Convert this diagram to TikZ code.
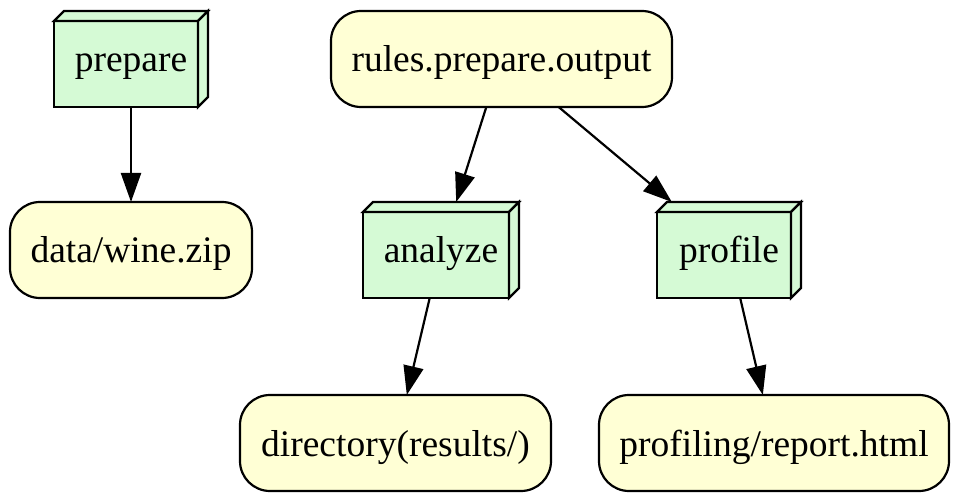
\documentclass[tikz,border=0pt]{standalone}
\usepackage{fontspec}
\setmainfont{Liberation Serif}
\usetikzlibrary{arrows.meta,calc,backgrounds}
\definecolor{fileyellow}{HTML}{FFFFD5}
\definecolor{rulegreen}{HTML}{D5FAD5}
\begin{document}
\begin{tikzpicture}[x=1pt,y=-1pt,
  every node/.style={font=\fontsize{37.5}{40}\selectfont, inner sep=0pt, outer sep=0pt, text height=30pt, text depth=4pt},
  filenode/.style={draw, line width=2.2pt, fill=fileyellow, rounded corners=30pt, minimum height=96pt},
  rulenode/.style={minimum height=96pt},
  face/.style={fill=rulegreen, draw, line width=2.2pt, line join=miter},
  edge/.style={line width=2.2pt, -{Triangle[length=29pt,width=20pt]}}]
\useasboundingbox (0,0) rectangle (960,502);
\node[rulenode, minimum width=154pt] (prepare) at (131,59) {prepare};
\node[filenode, minimum width=242pt] (wine) at (131,250) {data/wine.zip};
\node[filenode, minimum width=341pt] (rules) at (501.5,59) {rules.prepare.output};
\node[rulenode, minimum width=156pt] (analyze) at (441,250) {analyze};
\node[rulenode, minimum width=144pt] (profile) at (729,250) {profile};
\node[filenode, minimum width=311pt] (results) at (395.5,443) {directory(results/)};
\node[filenode, minimum width=350pt] (report) at (774,443) {profiling/report.html};
\begin{pgfonlayer}{background}
\foreach \n in {prepare,analyze,profile}{
  \path[face] ($(\n.north west)+(0,10)$) rectangle ($(\n.south east)+(-10,0)$);
  \path[face] ($(\n.north west)+(0,10)$) -- ($(\n.north west)+(10,0)$) -- (\n.north east) -- ($(\n.north east)+(-10,10)$) -- cycle;
  \path[face] ($(\n.north east)+(-10,10)$) -- (\n.north east) -- ($(\n.south east)+(0,-10)$) -- ($(\n.south east)+(-10,0)$) -- cycle;
}
\end{pgfonlayer}
\draw[edge] (prepare) -- (wine);
\draw[edge] (rules) -- (analyze);
\draw[edge] (rules) -- (profile);
\draw[edge] (analyze) -- (results);
\draw[edge] (profile) -- (report);
\end{tikzpicture}
\end{document}
